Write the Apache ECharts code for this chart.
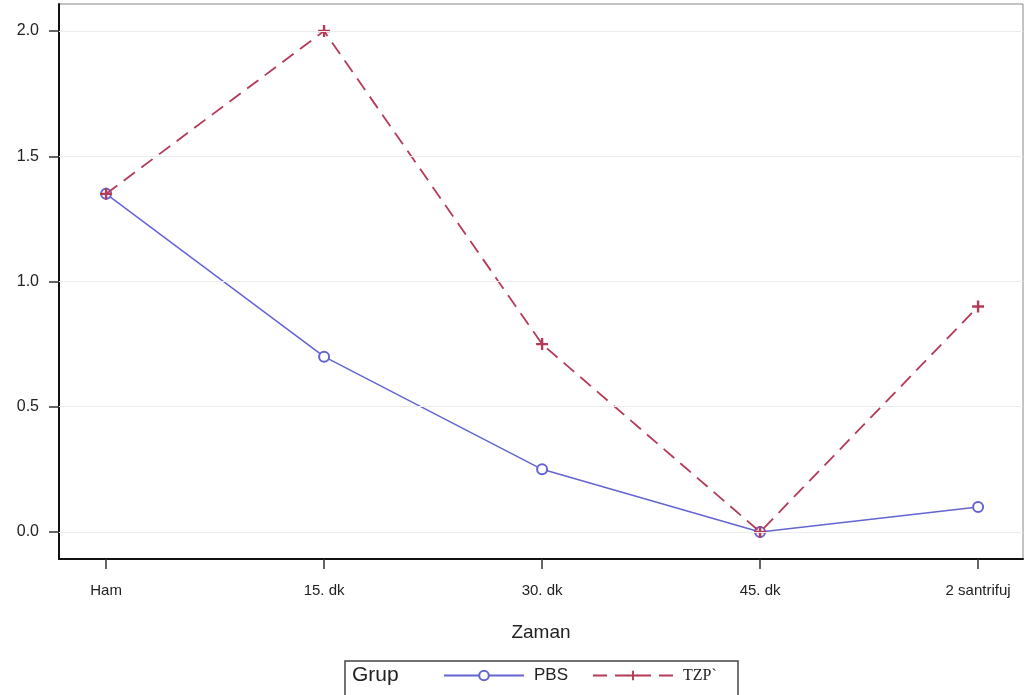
<!DOCTYPE html>
<html>
<head>
<meta charset="utf-8">
<script src="https://cdn.jsdelivr.net/npm/echarts@6/dist/echarts.min.js"></script>
<style>
  html, body { margin: 0; padding: 0; background: #fff; }
  #chart { width: 1031px; height: 695px; }
</style>
</head>
<body>
<div id="chart"></div>
<script>
const categories = ['Ham', '15. dk', '30. dk', '45. dk', '2 santrifuj'];
const pbsValues = [1.35, 0.70, 0.25, 0.0, 0.10];
const tzpValues = [1.35, 2.0, 0.75, 0.0, 0.90];
const yTicks = [0, 0.5, 1.0, 1.5, 2.0];

const chart = echarts.init(document.getElementById('chart'));

const plusPath = 'path://M4,0 h2 v4 h4 v2 h-4 v4 h-2 v-4 h-4 v-2 h4z';
const font = 'Liberation Sans, Arial, sans-serif';

const option = {
    backgroundColor: '#fff',
    animation: false,
    grid: {
        left: 59, top: 4, right: 8, bottom: 136,
        show: true, borderColor: '#888', borderWidth: 1
    },
    xAxis: {
        type: 'value',
        min: -0.216, max: 4.206,
        name: 'Zaman',
        nameLocation: 'middle',
        nameGap: 64,
        nameTextStyle: { fontSize: 19, color: '#222', fontFamily: font },
        axisLine: { onZero: false, lineStyle: { color: '#111', width: 2 } },
        axisTick: { customValues: [0, 1, 2, 3, 4], length: 10, lineStyle: { color: '#333', width: 1.5 } },
        axisLabel: {
            customValues: [0, 1, 2, 3, 4],
            formatter: v => categories[Math.round(v)] || '',
            fontSize: 15, color: '#222', fontFamily: font, margin: 24
        },
        splitLine: { show: false }
    },
    yAxis: {
        type: 'value',
        min: -0.108, max: 2.108,
        axisLine: { show: true, onZero: false, lineStyle: { color: '#111', width: 2 } },
        axisTick: { show: true, customValues: yTicks, length: 10, lineStyle: { color: '#333', width: 1.5 } },
        axisLabel: {
            customValues: yTicks,
            formatter: v => v.toFixed(1),
            fontSize: 16, color: '#222', fontFamily: font, margin: 20
        },
        splitLine: { show: false }
    },
    legend: {
        left: 443, top: 667, padding: 0,
        itemWidth: 80, itemHeight: 12, itemGap: 24,
        textStyle: { fontSize: 17, color: '#222', fontFamily: font, padding: [0, 0, 0, 5] },
        data: [
            { name: 'PBS' },
            { name: 'TZP`', textStyle: { fontFamily: 'Liberation Serif, serif', fontSize: 16, padding: [0, 0, 0, 5] } }
        ]
    },
    graphic: [
        {
            type: 'polyline',
            shape: { points: [[345, 695], [345, 661], [738, 661], [738, 695]] },
            style: { stroke: '#444', lineWidth: 1.5, fill: null }
        },
        {
            type: 'text', left: 352, top: 665,
            style: { text: 'Grup', fontSize: 21, fill: '#222', fontFamily: font }
        }
    ],
    series: [
        {
            name: 'PBS',
            type: 'line',
            data: pbsValues.map((v, i) => [i, v]),
            symbol: 'emptyCircle',
            symbolSize: 10,
            itemStyle: { color: '#6464d2', borderWidth: 1.8 },
            lineStyle: { color: '#6464d2', width: 1.5 },
            z: 3,
            markLine: {
                silent: true,
                symbol: 'none',
                label: { show: false },
                lineStyle: { color: '#ececec', width: 1, type: 'solid' },
                data: yTicks.map(v => ({ yAxis: v }))
            }
        },
        {
            name: 'TZP`',
            type: 'line',
            data: tzpValues.map((v, i) => [i, v]),
            symbol: plusPath,
            symbolSize: 12,
            itemStyle: { color: '#b43a55' },
            lineStyle: { color: '#b43a55', width: 1.8, type: [14, 8] },
            z: 4
        }
    ]
};

chart.setOption(option);
</script>
</body>
</html>
